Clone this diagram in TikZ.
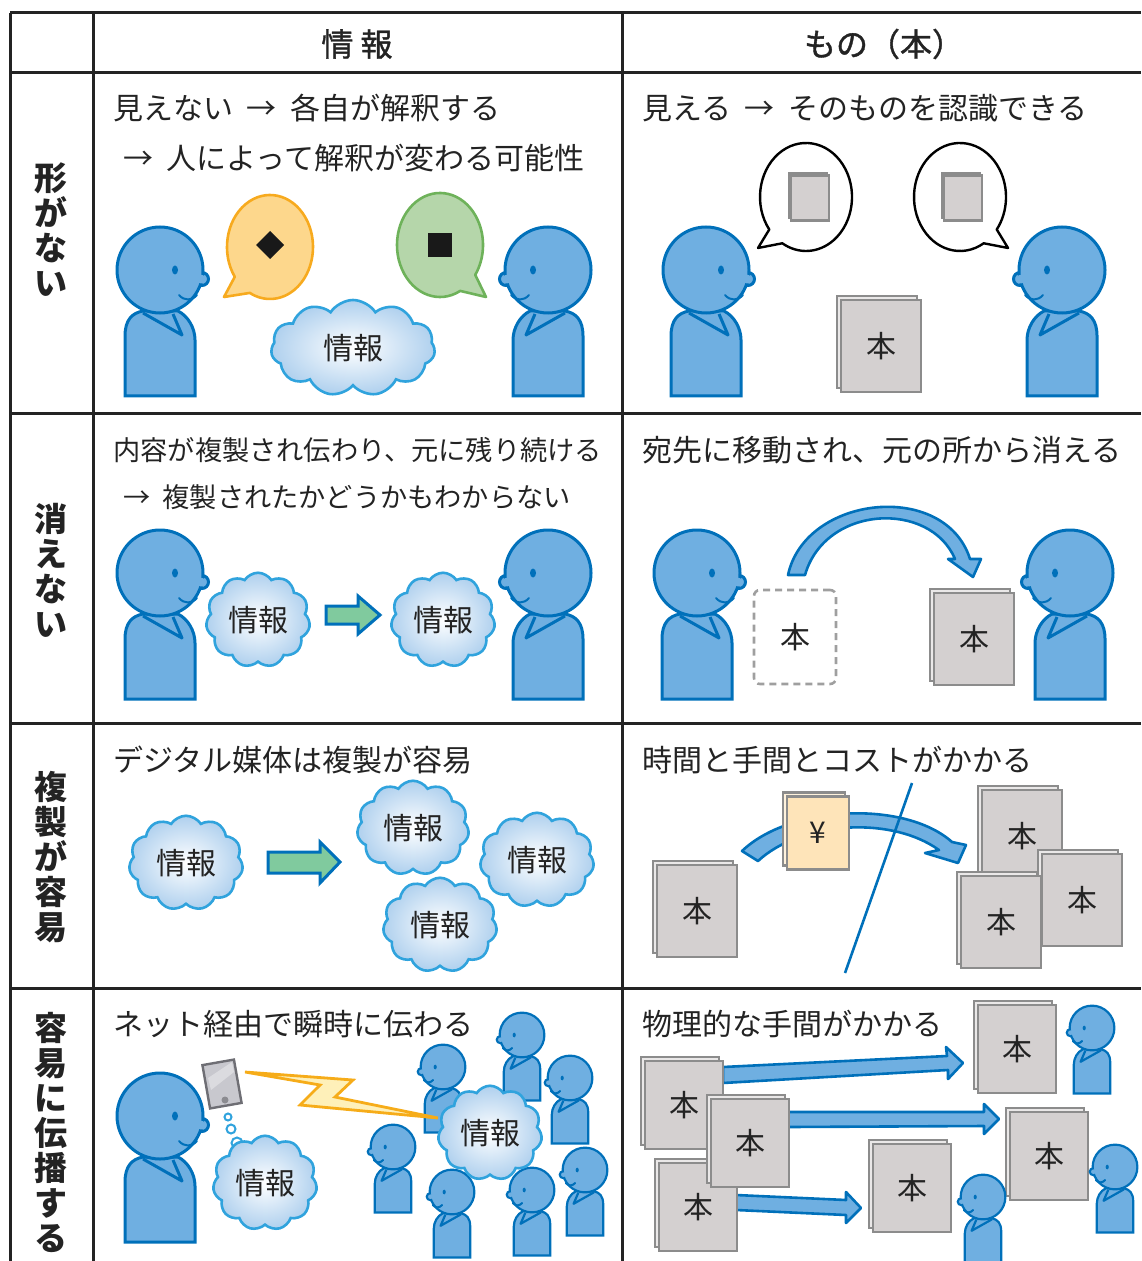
\documentclass[tikz,border=0pt]{standalone}
\usepackage{fontspec}
\setmainfont{Noto Sans CJK JP}[WordSpace=2]
\newfontfamily\headfont{Noto Sans CJK JP}[FakeBold=1.2]
\usetikzlibrary{shapes.symbols, shadows}

\definecolor{rule}{RGB}{35,35,35}
\definecolor{ink}{RGB}{35,35,35}
\definecolor{manfill}{RGB}{111,175,225}
\definecolor{manline}{RGB}{0,112,186}
\definecolor{cloudline}{RGB}{48,163,221}
\definecolor{cloudfill}{RGB}{175,208,238}
\definecolor{bookfill}{RGB}{212,208,208}
\definecolor{bookedge}{RGB}{234,232,232}
\definecolor{bookline}{RGB}{140,140,140}
\definecolor{cashfill}{RGB}{254,228,185}
\definecolor{cashedge}{RGB}{255,242,220}
\definecolor{orangefill}{RGB}{253,215,140}
\definecolor{orangeline}{RGB}{247,170,30}
\definecolor{greenfill}{RGB}{181,214,170}
\definecolor{greenline}{RGB}{110,178,90}
\definecolor{pushfill}{RGB}{128,202,158}
\definecolor{boltfill}{RGB}{254,240,185}
\definecolor{boltline}{RGB}{246,172,25}
\definecolor{padfill}{RGB}{200,200,206}
\definecolor{padline}{RGB}{110,110,116}

\tikzset{
  grid/.style={draw=rule, line width=1.5pt},
  head/.style={font=\fontsize{16}{16}\headfont, inner sep=0pt},
  sidelabel/.style={font=\fontsize{16.5}{17.5}\selectfont\bfseries, align=center, inner sep=0pt},
  note/.style={anchor=west, inner sep=0pt, font=\fontsize{15}{15}\selectfont},
  notesmall/.style={note, font=\fontsize{13.6}{13.6}\selectfont},
  % little man, head centre at the origin, looking to the right
  skin/.style={draw=manline, fill=manfill},
  bigman/.style={line width=1.5pt},
  smallman/.style={scale=0.52, line width=1.1pt},
  person/.pic={
    \filldraw[skin] (-35,126) -- (-35,66) .. controls (-35,50) and (-28,43) .. (-17,41)
      -- (18,41) .. controls (28,46) and (35,58) .. (35,70) -- (35,126) -- cycle;
    \filldraw[skin] (42,9) circle (6.5);
    \filldraw[skin] (0,0) circle (43);
    \fill[manfill] (41,9) circle (4.5);
    \fill[manline] (15,0) ellipse (3 and 4.5);
    \draw[manline, line width=1pt, line cap=round] (19,25) .. controls (24,31) and (32,31) .. (37,25);
    \draw[skin, fill=none, line join=round] (-17,43) -- (22,65) -- (13,44);
  },
  infocloud/.style={cloud, cloud puffs=11, cloud puff arc=115, draw=cloudline,
    line width=1.3pt, inner color=white, outer color=cloudfill, inner sep=0pt,
    font=\fontsize{15}{15}\selectfont},
  bookface/.style={rectangle, draw=bookline, fill=bookfill, line width=1.2pt,
    minimum width=40pt, minimum height=46pt, inner sep=0pt, font=\fontsize{15}{15}\selectfont},
  book/.style={bookface, copy shadow={shadow xshift=-2pt, shadow yshift=2pt,
    fill=bookedge, draw=bookline, line width=1.2pt}},
  rowbook/.style={book, minimum width=39pt, minimum height=44pt},
  minibook/.style={bookface, minimum width=19pt, minimum height=22.5pt,
    copy shadow={shadow xshift=-1pt, shadow yshift=1pt, fill=bookedge, draw=bookline, line width=1pt}},
  cashbook/.style={bookface, fill=cashfill, minimum width=31pt, minimum height=36.5pt,
    copy shadow={shadow xshift=-2pt, shadow yshift=2pt, fill=cashedge, draw=bookline, line width=1.2pt}},
  ghost/.style={draw=gray!75, line width=1.3pt, dash pattern=on 3.5pt off 2.5pt,
    rounded corners=3pt, minimum width=41pt, minimum height=47pt, font=\fontsize{15}{15}\selectfont},
  bubbleO/.style={draw=orangeline, fill=orangefill, line width=1.3pt, line join=round},
  bubbleG/.style={draw=greenline, fill=greenfill, line width=1.3pt, line join=round},
  bubbleK/.style={draw=black, fill=white, line width=1.2pt, line join=round},
  push/.style={draw=manline, fill=pushfill, line width=1.5pt, line join=miter},
  flowband/.style={draw=manline, fill=manfill, line width=1.3pt, line join=round},
  bolt/.style={draw=boltline, fill=boltfill, line width=1.4pt, line join=miter},
  pad/.style={draw=padline, fill=padfill, line width=1.2pt, minimum width=16pt, minimum height=22pt, inner sep=0pt},
  thought/.style={draw=cloudline, fill=white, line width=1pt},
}

\begin{document}
\begin{tikzpicture}[x=0.5pt, y=-0.5pt, every node/.append style={text=ink}]
  \useasboundingbox (0,0) rectangle (1141,1261);

  % table rules
  \foreach \y in {13,73,413,723,988}
    \draw[grid] (10,\y) -- (1141,\y);
  \foreach \x in {10,93,622}
    \draw[grid] (\x,13) -- (\x,1261);

  % headings
  \node[head] (hdInfo) at (357,44) {情 報};
  \node[head] (hdThing) at (884,44) {もの（本）};
  \node[sidelabel] (lblShape) at (51,230) {形\\が\\な\\い};
  \node[sidelabel] (lblVanish) at (51,570) {消\\え\\な\\い};
  \node[sidelabel] (lblCopy) at (51,857) {複\\製\\が\\容\\易};
  \node[sidelabel] (lblSpread) at (51,1132) {容\\易\\に\\伝\\播\\す\\る};

  % row 1 : no shape
  \node[note] (txtA1) at (113,108) {見えない → 各自が解釈する};
  \node[note] (txtA2) at (123,158) {→ 人によって解釈が変わる可能性};
  \node[note] (txtA3) at (642,108) {見える → そのものを認識できる};

  \pic[bigman] at (160,270) {person};
  \pic[bigman, xscale=-1] at (548,270) {person};
  \filldraw[bubbleO] (270,247) ++(145:43 and 52)
    arc[start angle=145, end angle=478, x radius=43, y radius=52] -- (224,297) -- cycle;
  \filldraw[bubbleG] (440,245) ++(62:43 and 52)
    arc[start angle=62, end angle=395, x radius=43, y radius=52] -- (486,297) -- cycle;
  \fill[black!90] (270,231) -- (284,245) -- (270,259) -- (256,245) -- cycle;
  \fill[black!90] (428,233) rectangle (452,257);
  \node[infocloud, minimum width=82pt, minimum height=48pt] (cloudA) at (353,348) {情報};

  \pic[bigman] at (706,270) {person};
  \pic[bigman, xscale=-1] at (1062,270) {person};
  \filldraw[bubbleK] (806,197) ++(143:46 and 54)
    arc[start angle=143, end angle=481, x radius=46, y radius=54] -- (758,248) -- cycle;
  \filldraw[bubbleK] (960,197) ++(59:46 and 54)
    arc[start angle=59, end angle=397, x radius=46, y radius=54] -- (1008,248) -- cycle;
  \node[minibook] (bkThinkL) at (810,198) {};
  \node[minibook] (bkThinkR) at (963,198) {};
  \node[book] (bkSeen) at (881,346) {本};

  % row 2 : does not vanish
  \node[notesmall] (txtB1) at (113,450) {内容が複製され伝わり、元に残り続ける};
  \node[notesmall] (txtB2) at (123,497) {→ 複製されたかどうかもわからない};
  \node[note] (txtB3) at (642,450) {宛先に移動され、元の所から消える};

  \pic[bigman] at (160,573) {person};
  \pic[bigman, xscale=-1] at (548,573) {person};
  \node[infocloud, minimum width=52pt, minimum height=43pt] (cloudB) at (258,620) {情報};
  \node[infocloud, minimum width=52pt, minimum height=43pt] (cloudC) at (443,620) {情報};
  \filldraw[push] (326,606) -- (358,606) -- (358,596) -- (380,615)
    -- (358,634) -- (358,624) -- (326,624) -- cycle;

  \pic[bigman] at (697,573) {person};
  \pic[bigman, xscale=-1] at (1070,573) {person};
  \node[ghost] (bkGone) at (795,637) {本};
  \node[book] (bkMoved) at (974,639) {本};
  \filldraw[flowband] (788,575) .. controls (805,495) and (945,480) .. (970,559)
    -- (981,559) -- (973,577) -- (948,559) -- (955,559)
    .. controls (930,500) and (825,505) .. (805,575) -- cycle;

  % row 3 : easy to copy
  \node[note] (txtC1) at (113,760) {デジタル媒体は複製が容易};
  \node[note] (txtC3) at (642,760) {時間と手間とコストがかかる};

  \node[infocloud, minimum width=57pt, minimum height=42pt] (cloudD) at (186,863) {情報};
  \node[infocloud, minimum width=56pt, minimum height=42pt] (cloudE) at (413,828) {情報};
  \node[infocloud, minimum width=57pt, minimum height=42pt] (cloudF) at (537,860) {情報};
  \node[infocloud, minimum width=57pt, minimum height=43pt] (cloudG) at (440,925) {情報};
  \filldraw[push] (268,852) -- (320,852) -- (320,842) -- (340,862)
    -- (320,883) -- (320,873) -- (268,873) -- cycle;

  \node[book] (bkSrc) at (697,911) {本};
  \filldraw[flowband] (742,851) .. controls (790,805) and (905,800) .. (952,842)
    -- (966,845) -- (958,863) -- (925,853) -- (939,850)
    .. controls (890,815) and (800,822) .. (758,861) -- cycle;
  \node[cashbook] (bkCash) at (818,833) {¥};
  \draw[manline, line width=1.3pt] (912,783) -- (845,973);
  \node[book] (bkCopyA) at (1022,836) {本};
  \node[book] (bkCopyB) at (1082,900) {本};
  \node[book] (bkCopyC) at (1001,922) {本};

  % row 4 : spreads easily
  \node[note] (txtD1) at (113,1024) {ネット経由で瞬時に伝わる};
  \node[note] (txtD3) at (642,1024) {物理的な手間がかかる};

  \pic[bigman] at (160,1116) {person};
  \node[pad, rotate=10] (tablet) at (222,1084) {};
  \fill[white, opacity=.35] (208,1078) -- (232,1062) -- (234,1072) -- (211,1090) -- cycle;
  \fill[padline!80] (225,1100) circle (3.5);
  \filldraw[thought] (228,1117) circle (3.5);
  \filldraw[thought] (231,1129) circle (4.5);
  \filldraw[thought] (237,1143) circle (5.5);
  \node[infocloud, minimum width=52pt, minimum height=41pt] (cloudH) at (265,1183) {情報};

  \foreach \px/\py in {443/1067, 522/1035, 570/1078, 393/1147, 452/1192, 532/1190, 585/1170}
    \pic[smallman, xscale=-1] at (\px,\py) {person};
  \filldraw[bolt] (245,1072) -- (353,1080) -- (335,1097) -- (438,1118)
    -- (300,1105) -- (320,1085) -- cycle;
  \node[infocloud, minimum width=52pt, minimum height=41pt] (cloudI) at (490,1133) {情報};

  \filldraw[flowband] (723,1067) -- (947,1056) -- (946,1047) -- (963,1063)
    -- (948,1079) -- (948,1070) -- (723,1083) -- cycle;
  \filldraw[flowband] (788,1112) -- (984,1112) -- (984,1104) -- (999,1119)
    -- (984,1134) -- (984,1126) -- (788,1127) -- cycle;
  \filldraw[flowband] (736,1195) -- (846,1200) -- (846,1192) -- (861,1208)
    -- (846,1223) -- (846,1215) -- (736,1210) -- cycle;
  \node[rowbook] (bkShipA) at (684,1105) {本};
  \node[rowbook] (bkShipB) at (698,1207) {本};
  \node[rowbook] (bkShipC) at (750,1143) {本};
  \node[rowbook] (bkGotA) at (1017,1049) {本};
  \node[rowbook] (bkGotB) at (1049,1156) {本};
  \node[rowbook] (bkGotC) at (912,1188) {本};
  \foreach \px/\py in {1092/1028, 983/1197, 1115/1167}
    \pic[smallman, xscale=-1] at (\px,\py) {person};
\end{tikzpicture}
\end{document}
